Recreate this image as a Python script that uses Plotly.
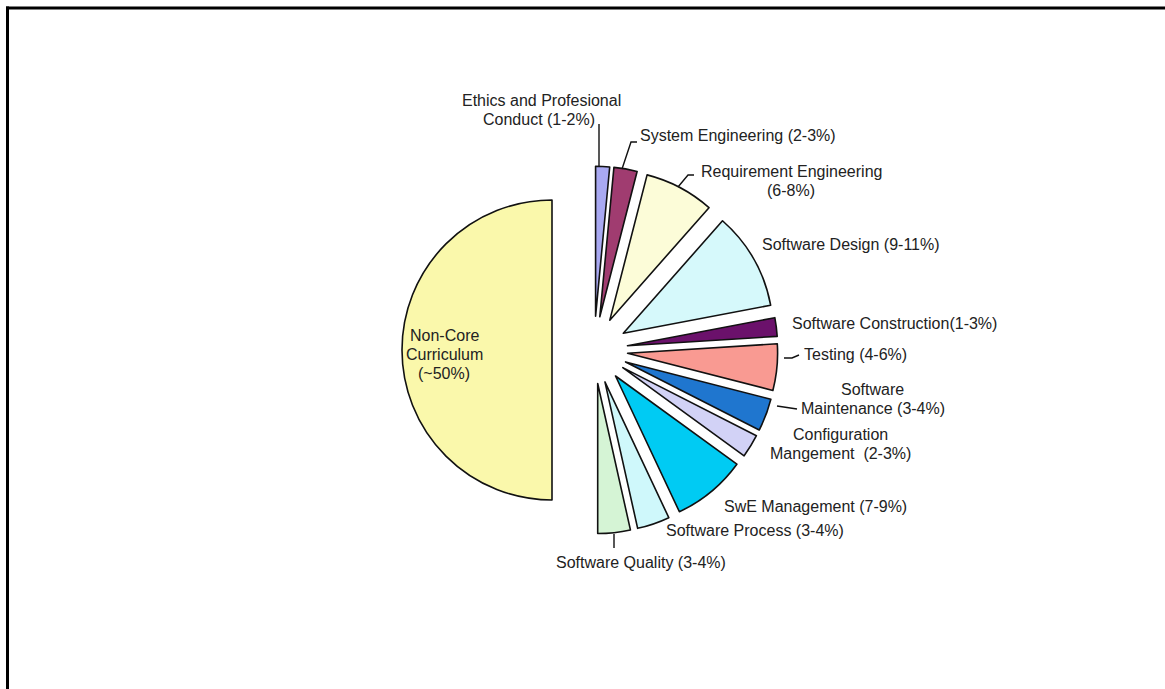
import plotly.graph_objects as go

# Curriculum areas, clockwise from 12 o'clock
areas = [
    "Ethics and Profesional Conduct",
    "System Engineering",
    "Requirement Engineering",
    "Software Design",
    "Software Construction",
    "Testing",
    "Software Maintenance",
    "Configuration Mangement",
    "SwE Management",
    "Software Process",
    "Software Quality",
    "Non-Core Curriculum",
]
# Share of the curriculum (%), taken inside each stated range
shares = [1.5, 2.5, 7.5, 10.5, 2.0, 5.0, 3.5, 2.5, 8.0, 3.5, 3.5, 50.0]
# Label text shown beside each slice
label_texts = [
    "Ethics and Profesional<br>Conduct (1-2%)",
    "System Engineering (2-3%)",
    "Requirement Engineering<br>(6-8%)",
    "Software Design (9-11%)",
    "Software Construction(1-3%)",
    "Testing (4-6%)",
    "Software<br>Maintenance (3-4%)",
    "Configuration<br>Mangement  (2-3%)",
    "SwE Management (7-9%)",
    "Software Process (3-4%)",
    "Software Quality (3-4%)",
    "Non-Core<br>Curriculum<br>(~50%)",
]

# ---- styling / layout ----
W, H = 1165, 689
slice_colors = [
    "#a9a9f2", "#a03c70", "#fcfcd8", "#d6f9fb", "#6b116b", "#f99a92",
    "#1f76cf", "#d2d2f6", "#00cbf3", "#cff8fb", "#d5f4d5", "#faf8ab",
]
pulls = [0.225] * 11 + [0.28]

# centre of each text line, in pixels (one list per label)
line_px = [
    [(541, 101), (539, 119)],
    [(738, 135)],
    [(792, 171), (791, 190)],
    [(851, 244)],
    [(894, 323)],
    [(855, 354)],
    [(872, 389), (873, 408)],
    [(840, 434), (840, 453)],
    [(815, 506)],
    [(755, 530)],
    [(641, 562)],
    [(444, 335), (444, 354), (444, 373)],
]

# leader lines in pixels (polylines)
leaders = [
    [(599, 167), (599, 124)],
    [(622, 169), (631, 142), (637, 142)],
    [(678, 187), (688, 175), (694, 175)],
    [(784, 358), (792, 358), (799, 355)],
    [(777, 406), (797, 409)],
    [(614, 534), (614, 548)],
]


def px(x):
    return x / W


def py(y):
    return 1 - y / H


fig = go.Figure(
    go.Pie(
        labels=areas,
        values=shares,
        sort=False,
        direction="clockwise",
        rotation=0,
        pull=pulls,
        textinfo="none",
        hoverinfo="label+percent",
        marker=dict(colors=slice_colors, line=dict(color="#111111", width=1.6)),
        domain=dict(x=[px(384), px(804)], y=[py(542), py(158)]),
        showlegend=False,
    )
)

annotations = []
for txt, positions in zip(label_texts, line_px):
    for line, (x, y) in zip(txt.split("<br>"), positions):
        annotations.append(
            dict(
                x=px(x), y=py(y), xref="paper", yref="paper",
                text=line, showarrow=False, align="center",
                xanchor="center", yanchor="middle",
                font=dict(family="Liberation Sans, Arial, sans-serif",
                          size=16, color="#222222"),
            )
        )

shapes = []
for pts in leaders:
    path = "M " + " L ".join(f"{px(x)},{py(y)}" for x, y in pts)
    shapes.append(dict(type="path", xref="paper", yref="paper", path=path,
                       line=dict(color="#111111", width=1.4)))

# frame along the top and left edges
shapes.append(dict(type="line", xref="paper", yref="paper",
                   x0=px(6), y0=py(8), x1=1, y1=py(8),
                   line=dict(color="#000000", width=3)))
shapes.append(dict(type="line", xref="paper", yref="paper",
                   x0=px(7.5), y0=py(6.5), x1=px(7.5), y1=0,
                   line=dict(color="#000000", width=3)))

fig.update_layout(
    width=W, height=H,
    margin=dict(l=0, r=0, t=0, b=0),
    paper_bgcolor="white",
    plot_bgcolor="white",
    annotations=annotations,
    shapes=shapes,
)

fig.write_html("out.html")
